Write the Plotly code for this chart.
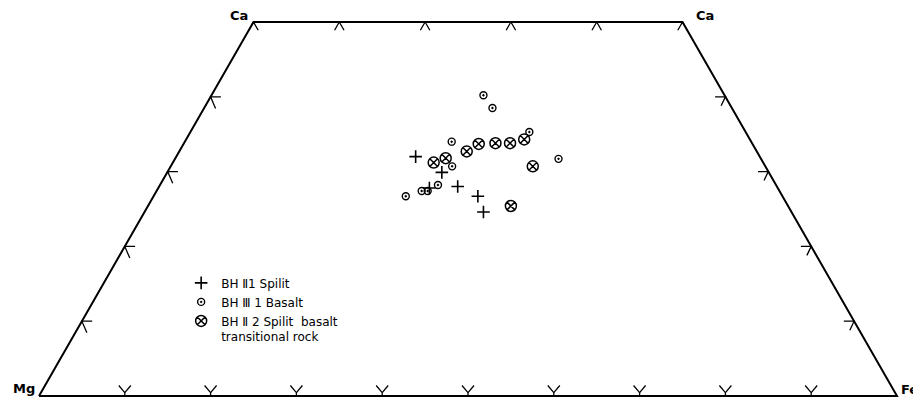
import plotly.graph_objects as go

# ---- data: pyroxene compositions (atomic %, Ca + Mg + Fe = 100) ----
spilit_ca = [32.0, 29.9, 27.8, 28.0, 26.7, 24.6]
spilit_fe = [27.9, 32.0, 31.6, 34.8, 37.8, 39.5]
spilit_mg = [round(100 - c - f, 1) for c, f in zip(spilit_ca, spilit_fe)]

basalt_ca = [40.2, 38.5, 35.3, 34.0, 30.7, 31.7, 28.2, 27.4, 27.4, 26.7]
basalt_fe = [31.7, 33.6, 39.5, 31.1, 32.8, 44.7, 32.4, 30.9, 31.6, 29.4]
basalt_mg = [round(100 - c - f, 1) for c, f in zip(basalt_ca, basalt_fe)]

trans_ca = [31.2, 31.8, 32.7, 33.7, 33.8, 33.8, 34.3, 30.7, 25.4]
trans_fe = [30.4, 31.5, 33.5, 34.4, 36.3, 38.0, 39.4, 42.2, 42.3]
trans_mg = [round(100 - c - f, 1) for c, f in zip(trans_ca, trans_fe)]

series_names = ["BH Ⅱ1 Spilit", "BH Ⅲ 1 Basalt", "BH Ⅱ 2 Spilit  basalt<br>transitional rock"]
corner_labels = ["Mg", "Ca", "Ca", "Fe"]
tick_ca_side = [10, 20, 30, 40]
tick_fe_bottom = [10, 20, 30, 40, 50, 60, 70, 80, 90]
tick_fe_top = [0, 10, 20, 30, 40, 50]


def to_xy(ca, fe):
    """ternary (Ca, Fe) -> cartesian; Mg is the remainder"""
    return fe + ca / 2.0, ca


def xy_list(cas, fes):
    pts = [to_xy(c, f) for c, f in zip(cas, fes)]
    return [p[0] for p in pts], [p[1] for p in pts]


fig = go.Figure()

# quadrilateral outline: Mg - Ca(Di) - Ca(Hd) - Fe
ox, oy = xy_list([0, 50, 50, 0, 0], [0, 0, 50, 100, 0])
fig.add_trace(go.Scatter(x=ox, y=oy, mode="lines", line=dict(color="black", width=2),
                         showlegend=False, hoverinfo="skip", cliponaxis=False))

# tick marks
tx, ty = [], []
for f in tick_fe_bottom:
    x, y = to_xy(0, f)
    tx += [x, x, x - 0.7, None, x, x + 0.7, None]
    ty += [y, y + 0.45, y + 1.4, None, y + 0.45, y + 1.4, None]
for f in tick_fe_top:
    x, y = to_xy(50, f)
    tx += [x - 0.55, x, x + 0.55, None]
    ty += [y - 1.1, y, y - 1.1, None]
for c in tick_ca_side:
    x, y = to_xy(c, 0)
    tx += [x + 1.2, x, x + 0.58, None]
    ty += [y, y, y - 1.56, None]
    x, y = to_xy(c, 100 - c)
    tx += [x - 1.2, x, x - 0.5, None]
    ty += [y, y, y - 1.2, None]
fig.add_trace(go.Scatter(x=tx, y=ty, mode="lines", line=dict(color="black", width=1.3),
                         showlegend=False, hoverinfo="skip", cliponaxis=False))

# data series
sx, sy = xy_list(spilit_ca, spilit_fe)
fig.add_trace(go.Scatter(x=sx, y=sy, mode="markers", name=series_names[0],
                         customdata=list(zip(spilit_ca, spilit_mg, spilit_fe)),
                         marker=dict(symbol="cross-thin-open", size=9, color="black",
                                     line=dict(color="black", width=1.6))))
bx, by = xy_list(basalt_ca, basalt_fe)
fig.add_trace(go.Scatter(x=bx, y=by, mode="markers", name=series_names[1],
                         customdata=list(zip(basalt_ca, basalt_mg, basalt_fe)),
                         marker=dict(symbol="circle-open-dot", size=7, color="black",
                                     line=dict(color="black", width=1.4))))
gx, gy = xy_list(trans_ca, trans_fe)
fig.add_trace(go.Scatter(x=gx, y=gy, mode="markers", name=series_names[2],
                         customdata=list(zip(trans_ca, trans_mg, trans_fe)),
                         marker=dict(symbol="circle-x-open", size=11, color="black",
                                     line=dict(color="black", width=1.5))))

# corner labels
corners = [(0, 0), (50, 0), (50, 50), (0, 100)]
anch = [("right", "middle", -2, 7), ("right", "bottom", -4, -3), ("left", "bottom", 11, -3),
        ("left", "middle", 2, 6)]
for lab, (c, f), (xa, ya, xs, ys) in zip(corner_labels, corners, anch):
    x, y = to_xy(c, f)
    fig.add_annotation(x=x, y=y, text="<b>" + lab + "</b>", showarrow=False,
                       xanchor=xa, yanchor=ya, xshift=xs, yshift=ys,
                       font=dict(family="DejaVu Sans", size=13, color="black"))

fig.update_layout(
    width=921, height=404,
    margin=dict(l=0, r=0, t=0, b=0),
    paper_bgcolor="white", plot_bgcolor="white",
    xaxis=dict(range=[-3.613, 103.73], visible=False, fixedrange=True),
    yaxis=dict(range=[-2.14, 51.87], visible=False, fixedrange=True),
    showlegend=True,
    legend=dict(x=0.188, y=0.355, xanchor="left", yanchor="top", bgcolor="rgba(0,0,0,0)",
                font=dict(family="DejaVu Sans", size=12, color="black"),
                itemwidth=30, tracegroupgap=0, valign="top"),
    font=dict(family="DejaVu Sans", color="black"),
)

fig.write_html("out.html")
